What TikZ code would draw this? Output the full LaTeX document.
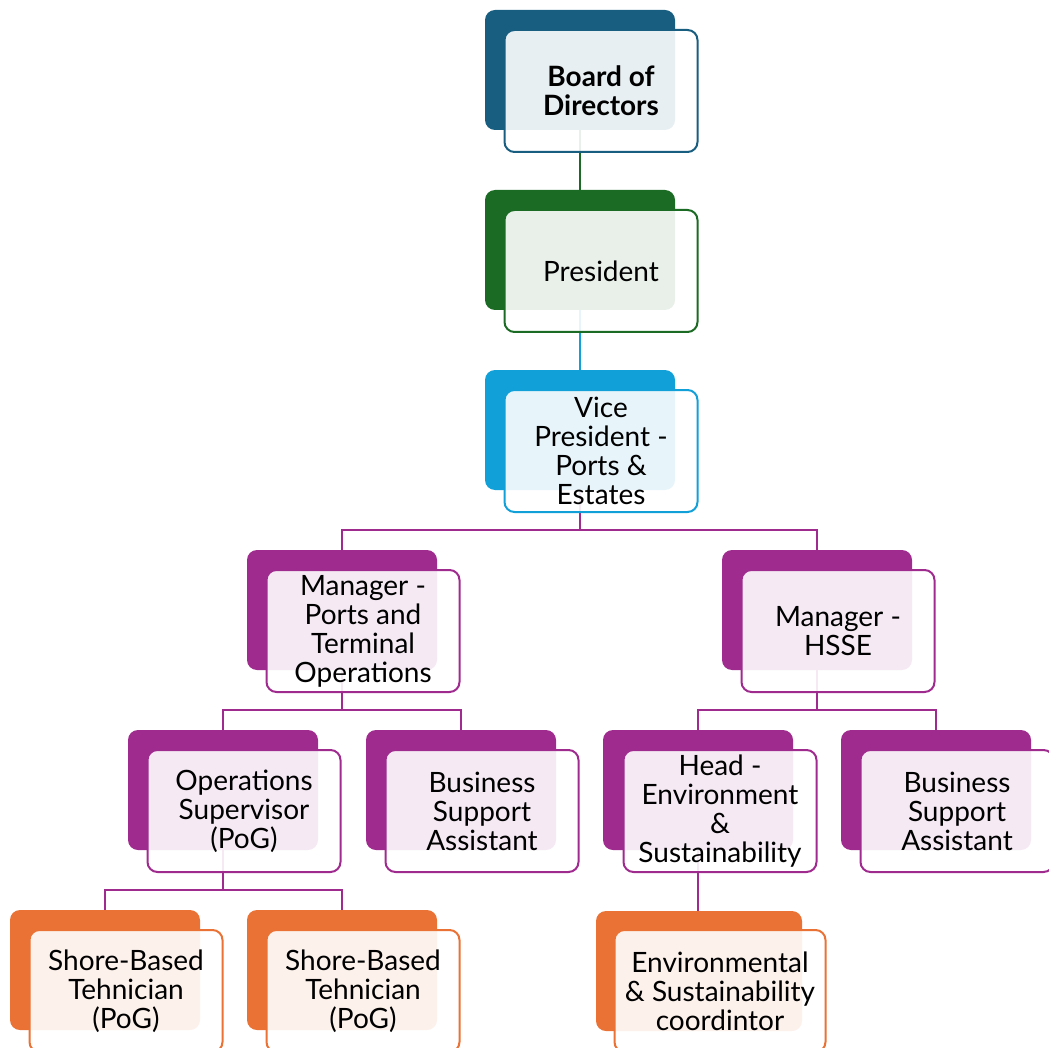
\documentclass[tikz,border=0pt]{standalone}
\usepackage{fontspec}
\setmainfont{Lato}
\usetikzlibrary{positioning, calc, backgrounds}
\definecolor{boardblue}{RGB}{24, 94, 128}
\definecolor{presgreen}{RGB}{27, 107, 36}
\definecolor{vpblue}{RGB}{18, 160, 216}
\definecolor{mgrpurple}{RGB}{160, 43, 143}
\definecolor{staforange}{RGB}{233, 114, 52}

\tikzset{
  back/.style={fill=#1, draw=none, rounded corners=10pt, minimum width=190pt, minimum height=120pt, inner sep=0pt},
  front/.style={draw=#1, line width=2pt, fill=white, fill opacity=0.9, text opacity=1, rounded corners=10pt,
    minimum width=193pt, minimum height=122pt, inner sep=0pt, align=center, font=\fontsize{28}{29}\selectfont},
  link/.style={draw=#1, line width=2pt},
}

\begin{document}
\begin{tikzpicture}[x=1pt, y=-1pt]
  \clip (0,0) rectangle (1049,1048);

  % Top of the chart
  \node[back=boardblue] (board) at (580, 70) {};
  \node[front=boardblue] (boardF) at ($(board)+(21,21)$) {\textbf{Board of}\\\textbf{Directors}};

  \node[back=presgreen] (pres) at (580, 250) {};
  \node[front=presgreen] (presF) at ($(pres)+(21,21)$) {President};

  \node[back=vpblue] (vp) at (580, 430) {};
  \node[front=vpblue] (vpF) at ($(vp)+(21,21)$) {Vice\\President -\\Ports \&\\Estates};

  % Managers
  \node[back=mgrpurple] (mgrA) at (342, 610) {};
  \node[front=mgrpurple] (mgrAF) at ($(mgrA)+(21,21)$) {Manager -\\Ports and\\Terminal\\Operations};

  \node[back=mgrpurple] (mgrB) at (817, 610) {};
  \node[front=mgrpurple] (mgrBF) at ($(mgrB)+(21,21)$) {Manager -\\HSSE};

  % Supervisors and assistants
  \node[back=mgrpurple] (ops) at (223, 790) {};
  \node[front=mgrpurple] (opsF) at ($(ops)+(21,21)$) {Operations\\Supervisor\\(PoG)};

  \node[back=mgrpurple] (bsaA) at (461, 790) {};
  \node[front=mgrpurple] (bsaAF) at ($(bsaA)+(21,21)$) {Business\\Support\\Assistant};

  \node[back=mgrpurple] (head) at (698, 790) {};
  \node[front=mgrpurple] (headF) at ($(head)+(22,21)$) {Head -\\Environment\\\&\\Sustainability};

  \node[back=mgrpurple] (bsaB) at (936, 790) {};
  \node[front=mgrpurple] (bsaBF) at ($(bsaB)+(21,21)$) {Business\\Support\\Assistant};

  % Staff
  \node[back=staforange] (shoreA) at (105, 970) {};
  \node[front=staforange] (shoreAF) at ($(shoreA)+(21,21)$) {Shore-Based\\Tehnician\\(PoG)};

  \node[back=staforange] (shoreB) at (342, 970) {};
  \node[front=staforange] (shoreBF) at ($(shoreB)+(21,21)$) {Shore-Based\\Tehnician\\(PoG)};

  \node[back=staforange, minimum width=206pt] (envc) at (699, 971) {};
  \node[front=staforange, minimum width=211pt] (envcF) at ($(envc)+(21,20)$) {Environmental\\\& Sustainability\\coordintor};

  % Connectors
  \begin{scope}[on background layer]
    \draw[link=presgreen] (board.south) -- (pres.north);
    \draw[link=vpblue] (pres.south) -- (vp.north);
    \draw[link=mgrpurple] (vp.south) -- ++(0,40) -| (mgrA.north);
    \draw[link=mgrpurple] (vp.south) -- ++(0,40) -| (mgrB.north);
    \draw[link=mgrpurple] (mgrA.south) -- ++(0,40) -| (ops.north);
    \draw[link=mgrpurple] (mgrA.south) -- ++(0,40) -| (bsaA.north);
    \draw[link=mgrpurple] (mgrB.south) -- ++(0,40) -| (head.north);
    \draw[link=mgrpurple] (mgrB.south) -- ++(0,40) -| (bsaB.north);
    \draw[link=mgrpurple] (ops.south) -- ++(0,40) -| (shoreA.north);
    \draw[link=mgrpurple] (ops.south) -- ++(0,40) -| (shoreB.north);
    \draw[link=mgrpurple] (head.south) -- (head.south |- envc.north);
  \end{scope}
\end{tikzpicture}
\end{document}
